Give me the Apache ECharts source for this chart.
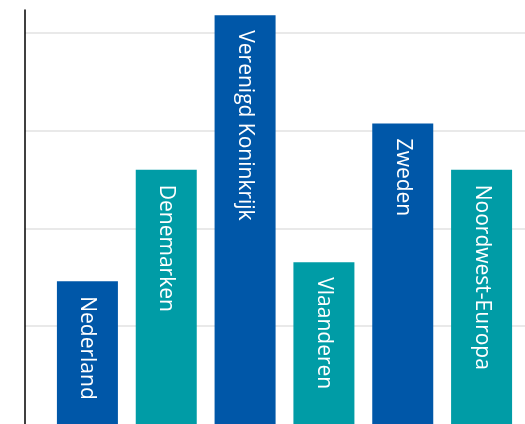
<!DOCTYPE html>
<html><head><meta charset="utf-8">
<script src="https://cdn.jsdelivr.net/npm/echarts@6/dist/echarts.min.js"></script>
<style>html,body{margin:0;padding:0;background:#fff}#c{width:525px;height:424px}</style>
</head><body><div id="c"></div>
<script>
var categories = ["Nederland","Denemarken","Verenigd Koninkrijk","Vlaanderen","Zweden","Noordwest-Europa"];
var values = [7.3, 13.0, 20.9, 8.27, 15.36, 13.0];
var barColors = ["#0057a8","#009ca6","#0057a8","#009ca6","#0057a8","#009ca6"];
var yTicks = [0,5,10,15,20];

var chart = echarts.init(document.getElementById('c'));
var yMax = 21.17;
chart.setOption({
  animation:false,
  grid:[
    {left:25,right:0,top:10,bottom:-1},
    {left:48,right:4,top:10,bottom:-1}
  ],
  xAxis:[
    {gridIndex:0,type:'category',data:categories,show:false},
    {gridIndex:1,type:'category',data:categories,show:false}
  ],
  yAxis:[
    {gridIndex:0,type:'value',min:0,max:yMax,interval:5,
     axisLine:{show:true,lineStyle:{color:'#000',width:1.5}},
     axisTick:{show:false},axisLabel:{show:false},
     splitLine:{show:true,showMaxLine:false,showMinLine:false,lineStyle:{color:'#e2e2e2',width:1.5}}},
    {gridIndex:1,type:'value',min:0,max:yMax,interval:5,show:false,splitLine:{show:false}}
  ],
  series:[{
    type:'bar',xAxisIndex:1,yAxisIndex:1,barWidth:61,
    data:values.map(function(v,i){return {value:v,itemStyle:{color:barColors[i]}};}),
    label:{show:true,position:'insideTop',distance:15,rotate:-90,align:'left',verticalAlign:'middle',
      formatter:function(p){return categories[p.dataIndex];},
      color:'#fff',fontFamily:'Open Sans',fontSize:21}
  }]
});
</script></body></html>
